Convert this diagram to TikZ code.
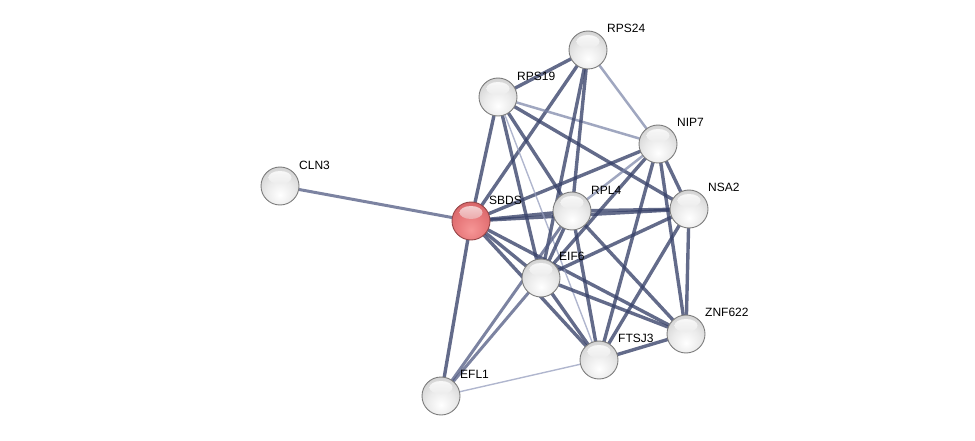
\documentclass[tikz,border=0pt]{standalone}
\usepackage{fontspec}
\setmainfont{Liberation Sans}
\pgfdeclareradialshading{graysphere}{\pgfpoint{0bp}{-12bp}}{color(0bp)=(white); color(18bp)=(white!92!black); color(40bp)=(white!78!black); color(58bp)=(white!62!black); color(90bp)=(white!50!black)}
\pgfdeclareradialshading{redsphere}{\pgfpoint{0bp}{-12bp}}{color(0bp)=(rgb,255:red,246;green,150;blue,150); color(18bp)=(rgb,255:red,232;green,122;blue,124); color(40bp)=(rgb,255:red,208;green,92;blue,96); color(58bp)=(rgb,255:red,178;green,64;blue,68); color(90bp)=(rgb,255:red,155;green,48;blue,52)}
\begin{document}
\begin{tikzpicture}[x=1pt,y=-1pt,
  prot/.style={circle,minimum size=38pt,inner sep=0pt,draw={rgb,255:red,125;green,125;blue,125},line width=0.9pt,shading=graysphere,
    path picture={\shade[top color=white,bottom color=white!84!black,opacity=0.9] ([yshift=8.5pt]path picture bounding box.center) ellipse (11.5pt and 6.5pt);}},
  query/.style={prot,draw={rgb,255:red,150;green,70;blue,72},shading=redsphere,
    path picture={\shade[top color=white,bottom color={rgb,255:red,215;green,100;blue,104},opacity=0.75] ([yshift=8.5pt]path picture bounding box.center) ellipse (11.5pt and 6.5pt);}},
  lbl/.style={anchor=west,font=\fontsize{12}{12}\selectfont,inner sep=0pt},
  es/.style={draw={rgb,255:red,55;green,65;blue,105},opacity=0.78,line width=3.4pt},
  em/.style={draw={rgb,255:red,80;green,90;blue,130},opacity=0.75,line width=3pt},
  el/.style={draw={rgb,255:red,120;green,130;blue,165},opacity=0.7,line width=2.5pt},
  ev/.style={draw={rgb,255:red,150;green,158;blue,190},opacity=0.75,line width=1.4pt}]
\useasboundingbox (0,0) rectangle (975,441);
% node coordinates
\coordinate (cRPS24) at (588,50);
\coordinate (cRPS19) at (498,97);
\coordinate (cNIP7) at (658,144);
\coordinate (cCLN3) at (280,186);
\coordinate (cSBDS) at (471,221);
\coordinate (cRPL4) at (572,211);
\coordinate (cNSA2) at (689,209);
\coordinate (cEIF6) at (541,278);
\coordinate (cZNF622) at (686,334);
\coordinate (cFTSJ3) at (599,360);
\coordinate (cEFL1) at (441,396);
% edges
\draw[em] (cSBDS) -- (cCLN3);
\draw[es] (cSBDS) -- (cRPS19);
\draw[es] (cSBDS) -- (cRPS24);
\draw[es] (cSBDS) -- (cNIP7);
\draw[es] (cSBDS) -- (cRPL4);
\draw[es] (cSBDS) -- (cNSA2);
\draw[es] (cSBDS) -- (cEIF6);
\draw[es] (cSBDS) -- (cZNF622);
\draw[es] (cSBDS) -- (cFTSJ3);
\draw[es] (cSBDS) -- (cEFL1);
\draw[es] (cRPS19) -- (cRPS24);
\draw[el] (cRPS19) -- (cNIP7);
\draw[es] (cRPS19) -- (cRPL4);
\draw[es] (cRPS19) -- (cNSA2);
\draw[es] (cRPS19) -- (cEIF6);
\draw[ev] (cRPS19) -- (cFTSJ3);
\draw[el] (cRPS24) -- (cNIP7);
\draw[es] (cRPS24) -- (cRPL4);
\draw[es] (cRPS24) -- (cEIF6);
\draw[el] (cNIP7) -- (cRPL4);
\draw[es] (cNIP7) -- (cEIF6);
\draw[es] (cNIP7) -- (cNSA2);
\draw[es] (cNIP7) -- (cZNF622);
\draw[es] (cNIP7) -- (cFTSJ3);
\draw[es] (cRPL4) -- (cNSA2);
\draw[es] (cRPL4) -- (cEIF6);
\draw[es] (cRPL4) -- (cZNF622);
\draw[es] (cRPL4) -- (cFTSJ3);
\draw[em] (cRPL4) -- (cEFL1);
\draw[es] (cNSA2) -- (cEIF6);
\draw[es] (cNSA2) -- (cZNF622);
\draw[es] (cNSA2) -- (cFTSJ3);
\draw[es] (cEIF6) -- (cZNF622);
\draw[es] (cEIF6) -- (cFTSJ3);
\draw[em] (cEIF6) -- (cEFL1);
\draw[es] (cFTSJ3) -- (cZNF622);
\draw[ev] (cFTSJ3) -- (cEFL1);
% nodes
\node[prot] (RPS24) at (cRPS24) {};
\node[prot] (RPS19) at (cRPS19) {};
\node[prot] (NIP7) at (cNIP7) {};
\node[prot] (CLN3) at (cCLN3) {};
\node[query] (SBDS) at (cSBDS) {};
\node[prot] (RPL4) at (cRPL4) {};
\node[prot] (NSA2) at (cNSA2) {};
\node[prot] (EIF6) at (cEIF6) {};
\node[prot] (ZNF622) at (cZNF622) {};
\node[prot] (FTSJ3) at (cFTSJ3) {};
\node[prot] (EFL1) at (cEFL1) {};
% labels
\node[lbl] (lRPS24) at (607,28) {RPS24};
\node[lbl] (lRPS19) at (517,76) {RPS19};
\node[lbl] (lNIP7) at (677,122) {NIP7};
\node[lbl] (lCLN3) at (299,165) {CLN3};
\node[lbl] (lSBDS) at (489,200) {SBDS};
\node[lbl] (lRPL4) at (591,190) {RPL4};
\node[lbl] (lNSA2) at (708,187) {NSA2};
\node[lbl] (lEIF6) at (559,256) {EIF6};
\node[lbl] (lZNF622) at (705,312) {ZNF622};
\node[lbl] (lFTSJ3) at (618,338) {FTSJ3};
\node[lbl] (lEFL1) at (460,374) {EFL1};
\end{tikzpicture}
\end{document}
